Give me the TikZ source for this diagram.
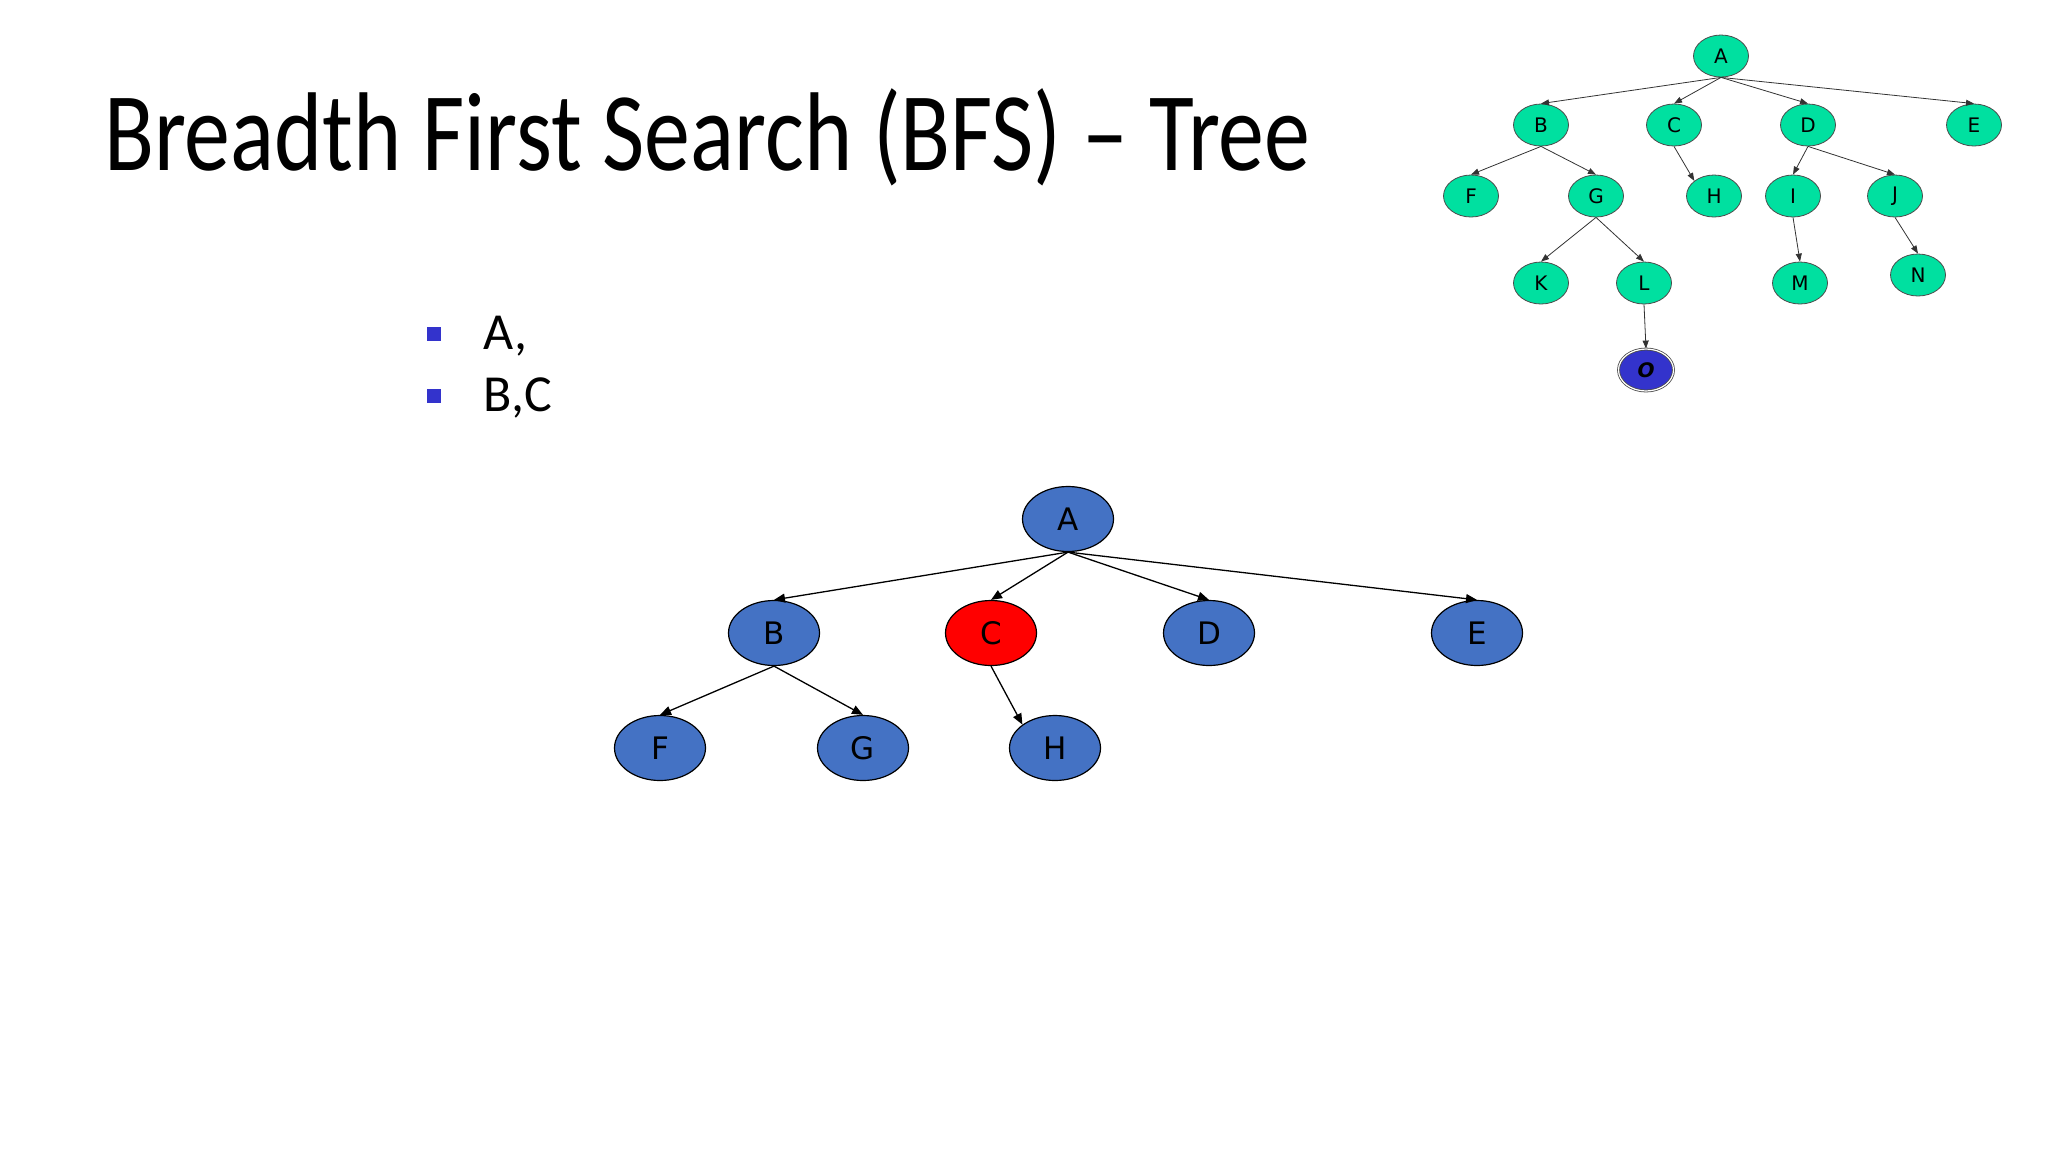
\documentclass[tikz,border=0pt]{standalone}
\usepackage{fontspec}
\setmainfont{Carlito}
\newfontfamily\nodefont{DejaVu Sans}
\usetikzlibrary{shapes.geometric,arrows.meta}
\definecolor{mblue}{HTML}{4472C4}
\definecolor{sgreen}{HTML}{00E0A0}
\definecolor{dblue}{HTML}{3333CC}
\tikzset{
 big/.style={ellipse,draw=black,line width=1.2pt,fill=mblue,minimum width=91pt,minimum height=65pt,inner sep=0pt,font=\nodefont\fontsize{31}{31}\selectfont},
 small/.style={ellipse,draw=black!70,line width=0.8pt,fill=sgreen,minimum width=55pt,minimum height=42pt,inner sep=0pt,font=\nodefont\fontsize{20}{20}\selectfont},
 bedge/.style={-{Triangle[length=11pt,width=9pt]},line width=1.3pt},
 sedge/.style={-{Triangle[length=8pt,width=6pt]},line width=0.8pt,draw=black!80},
 bul/.style={fill=dblue,minimum size=14pt,inner sep=0pt},
 btext/.style={anchor=base west,font=\fontsize{52}{52}\selectfont}
}
\begin{document}
\begin{tikzpicture}[x=1pt,y=-1pt]
\useasboundingbox (0,0) rectangle (2048,1152);
\node[anchor=base west,font=\fontsize{112}{112}\selectfont,inner sep=0pt,xscale=0.82,transform shape] (title) at (104,170) {Breadth First Search (BFS) – Tree};
\node[bul] (b1) at (434,334) {};
\node[btext] (t1) at (480,349) {A,};
\node[bul] (b2) at (434,396) {};
\node[btext] (t2) at (480,411) {B,C};
% main tree
\node[big] (A) at (1068,519) {A};
\node[big] (B) at (774,633) {B};
\node[big,fill=red] (C) at (991,633) {C};
\node[big] (D) at (1209,633) {D};
\node[big] (E) at (1477,633) {E};
\node[big] (F) at (660,748) {F};
\node[big] (G) at (863,748) {G};
\node[big] (H) at (1055,748) {H};
\foreach \c in {B,C,D,E} \draw[bedge] (A.south) -- (\c.north);
\foreach \c in {F,G} \draw[bedge] (B.south) -- (\c.north);
\draw[bedge] (C.south) -- (H.north west);
% small tree
\node[small] (sA) at (1721,56) {A};
\node[small] (sB) at (1541,125) {B};
\node[small] (sC) at (1674,125) {C};
\node[small] (sD) at (1808,125) {D};
\node[small] (sE) at (1974,125) {E};
\node[small] (sF) at (1471,196) {F};
\node[small] (sG) at (1596,196) {G};
\node[small] (sH) at (1714,196) {H};
\node[small] (sI) at (1793,196) {I};
\node[small] (sJ) at (1895,196) {J};
\node[small] (sK) at (1541,283) {K};
\node[small] (sL) at (1644,283) {L};
\node[small] (sM) at (1800,283) {M};
\node[small] (sN) at (1918,275) {N};
\node[small,fill=dblue,double=white,draw=black!70,double distance=1.2pt,font=\nodefont\fontsize{20}{20}\selectfont\bfseries\itshape] (sO) at (1646,370) {O};
\foreach \c in {B,C,D,E} \draw[sedge] (sA.south) -- (s\c.north);
\foreach \c in {F,G} \draw[sedge] (sB.south) -- (s\c.north);
\draw[sedge] (sC.south) -- (sH.north west);
\foreach \c in {I,J} \draw[sedge] (sD.south) -- (s\c.north);
\foreach \c in {K,L} \draw[sedge] (sG.south) -- (s\c.north);
\draw[sedge] (sL.south) -- (sO.north);
\draw[sedge] (sI.south) -- (sM.north);
\draw[sedge] (sJ.south) -- (sN.north);
\end{tikzpicture}
\end{document}
